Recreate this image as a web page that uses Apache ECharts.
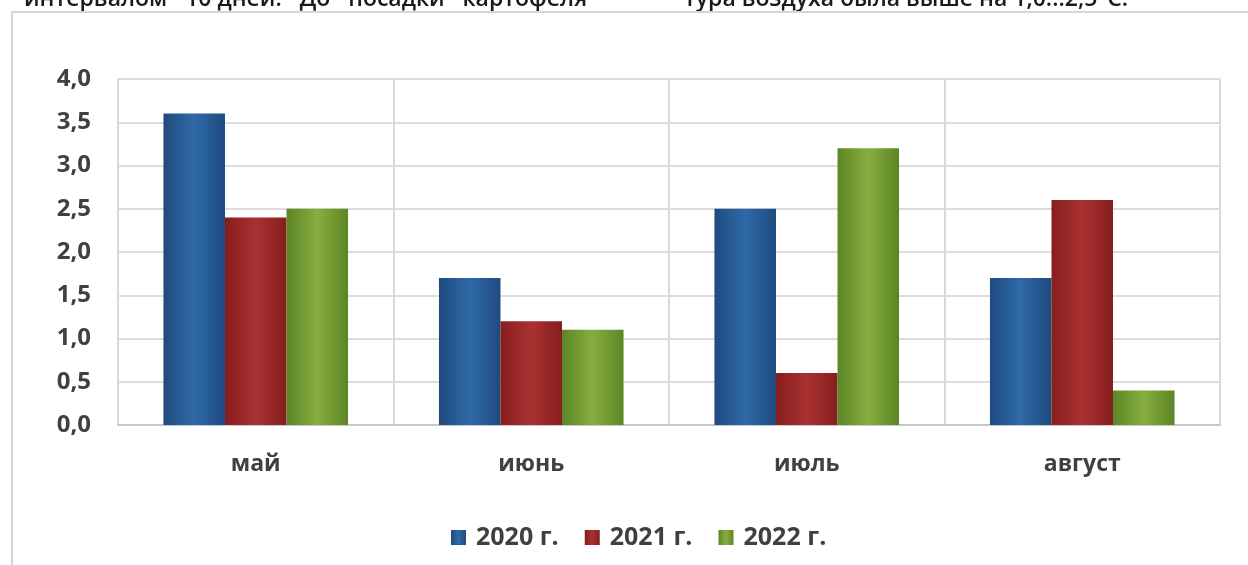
<!DOCTYPE html>
<html>
<head>
<meta charset="utf-8">
<script src="https://cdn.jsdelivr.net/npm/echarts@6/dist/echarts.min.js"></script>
<style>
  html, body { margin: 0; padding: 0; background: #ffffff; }
  #chart { width: 1248px; height: 565px; }
</style>
</head>
<body>
<div id="chart"></div>
<script>
// Monthly temperature deviation, °C
const months = ['май', 'июнь', 'июль', 'август'];
const years = ['2020 г.', '2021 г.', '2022 г.'];
const values2020 = [3.6, 1.7, 2.5, 1.7];
const values2021 = [2.4, 1.2, 0.6, 2.6];
const values2022 = [2.5, 1.1, 3.2, 0.4];
const yTicks = [0, 0.5, 1, 1.5, 2, 2.5, 3, 3.5, 4];

// [edge, centre] shades for each year's bars
const palette = [
  ['#1f4a7e', '#2f6aa9'],
  ['#861e1e', '#aa3131'],
  ['#5c8526', '#86ae3f']
];

function barFill(c) {
  return new echarts.graphic.LinearGradient(0, 0, 1, 0, [
    { offset: 0, color: c[0] },
    { offset: 0.5, color: c[1] },
    { offset: 1, color: c[0] }
  ]);
}

const seriesValues = [values2020, values2021, values2022];
const FONT = '"Open Sans", "DejaVu Sans", sans-serif';

const chart = echarts.init(document.getElementById('chart'), null, { renderer: 'canvas' });
chart.setOption({
  backgroundColor: '#ffffff',
  animation: false,
  graphic: [
    {
      type: 'text', left: 24, top: -12, silent: true,
      style: { text: 'интервалом   10 дней.   До   посадки   картофеля', font: '600 23px ' + FONT, fill: '#1a1a1a' }
    },
    {
      type: 'text', left: 684, top: -12, silent: true,
      style: { text: 'тура воздуха была выше на 1,0...2,5°С.', font: '600 23px ' + FONT, fill: '#1a1a1a' }
    },
    {
      type: 'polyline', silent: true,
      shape: { points: [[12, 565], [12, 12], [1248, 12]] },
      style: { stroke: '#d6d6d6', lineWidth: 2, fill: null }
    }
  ],
  grid: { left: 118, right: 28, top: 79, bottom: 140, containLabel: false },
  legend: {
    data: years,
    bottom: 10,
    left: 446,
    itemWidth: 15, itemHeight: 15, itemGap: 26,
    icon: 'rect',
    textStyle: { fontFamily: FONT, fontWeight: 'bold', fontSize: 25, color: '#404040', padding: [0, 0, 0, 5] }
  },
  xAxis: {
    type: 'category',
    data: months,
    axisLine: { show: true, lineStyle: { color: '#c8c8c8', width: 2 } },
    axisTick: { show: false },
    splitLine: { show: true, lineStyle: { color: '#d9d9d9', width: 2 } },
    axisLabel: { fontFamily: FONT, fontWeight: 'bold', fontSize: 23, color: '#404040', margin: 28 }
  },
  yAxis: {
    type: 'value',
    min: yTicks[0], max: yTicks[yTicks.length - 1], interval: 0.5,
    axisLine: { show: true, lineStyle: { color: '#d9d9d9', width: 2 } },
    axisTick: { show: false },
    splitLine: { lineStyle: { color: '#dcdcdc', width: 2 } },
    axisLabel: {
      fontFamily: FONT, fontWeight: 'bold', fontSize: 24, color: '#404040', margin: 27,
      formatter: v => v.toFixed(1).replace('.', ',')
    }
  },
  series: years.map((name, i) => ({
    name,
    type: 'bar',
    data: seriesValues[i],
    barGap: '0%',
    barCategoryGap: '33%',
    color: palette[i][1],
    itemStyle: { color: barFill(palette[i]) }
  }))
});
</script>
</body>
</html>
